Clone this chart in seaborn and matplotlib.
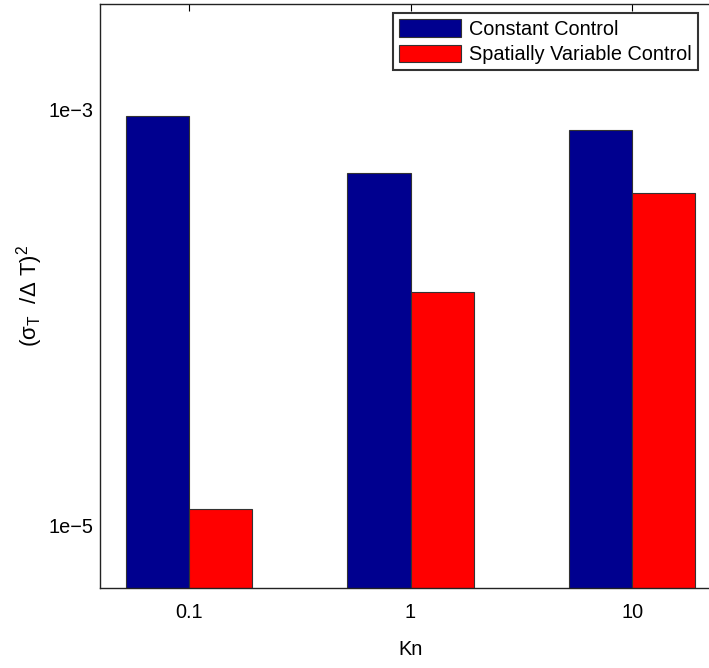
import pandas as pd
import matplotlib
matplotlib.use("Agg")
import matplotlib.pyplot as plt
import seaborn as sns

# values
kn_labels = ['0.1', '1', '10']
constant_control = [9.35e-4, 4.97e-4, 8.01e-4]
variable_control = [1.19e-5, 1.32e-4, 3.99e-4]
series_names = ['Constant Control', 'Spatially Variable Control']

df = pd.DataFrame({
    'Kn': kn_labels * 2,
    'value': constant_control + variable_control,
    'series': [series_names[0]] * 3 + [series_names[1]] * 3,
})

sns.set_style('white')
plt.rcParams['font.family'] = ['Liberation Sans', 'DejaVu Sans']
plt.rcParams['text.color'] = 'black'
plt.rcParams['axes.labelcolor'] = 'black'
plt.rcParams['mathtext.fontset'] = 'custom'
plt.rcParams['mathtext.rm'] = 'Liberation Sans'
plt.rcParams['mathtext.it'] = 'Liberation Sans'
plt.rcParams['mathtext.sf'] = 'Liberation Sans'

fs = 14.3
fig = plt.figure(figsize=(7.09, 6.68), dpi=100)
ax = fig.add_axes([100 / 709, 80 / 668, 621 / 709, 584 / 668])
ax.set_yscale('log')

sns.barplot(data=df, x='Kn', y='value', hue='series', order=kn_labels,
            hue_order=series_names, palette=['#00008F', '#FF0000'],
            saturation=1, width=0.57, edgecolor='#333333', linewidth=0.8, ax=ax)

ax.set_xlim(-0.4, 2.4)
ax.set_ylim(10 ** -5.303, 10 ** -2.49)
ax.set_yticks([1e-5, 1e-4, 1e-3])
ax.set_yticklabels(['1e\u22125', '', '1e\u22123'])
ax.minorticks_off()
ax.tick_params(direction='in', length=5, width=0.8, top=True, right=True,
               labelsize=fs, colors='black')
ax.tick_params(axis='x', pad=11)
ax.tick_params(axis='y', pad=5)

for sp in ax.spines.values():
    sp.set_color('#222222')
    sp.set_linewidth(1.0)

ax.set_xlabel('Kn', fontsize=fs, labelpad=13)
ax.set_ylabel(r'$\mathregular{(\sigma_T\ \ /\Delta\ T)^2}$', fontsize=16, labelpad=2)

leg = ax.legend(loc='upper left', bbox_to_anchor=(393 / 709, 1 - 13 / 668),
                bbox_transform=fig.transFigure, fontsize=fs, frameon=True,
                fancybox=False, edgecolor='black', handlelength=3.1,
                handleheight=1.0, handletextpad=0.45, labelspacing=0.3,
                borderpad=0.3, borderaxespad=0)
leg.get_frame().set_linewidth(1.5)
leg.set_title(None)

fig.savefig('out.png', dpi=100)
